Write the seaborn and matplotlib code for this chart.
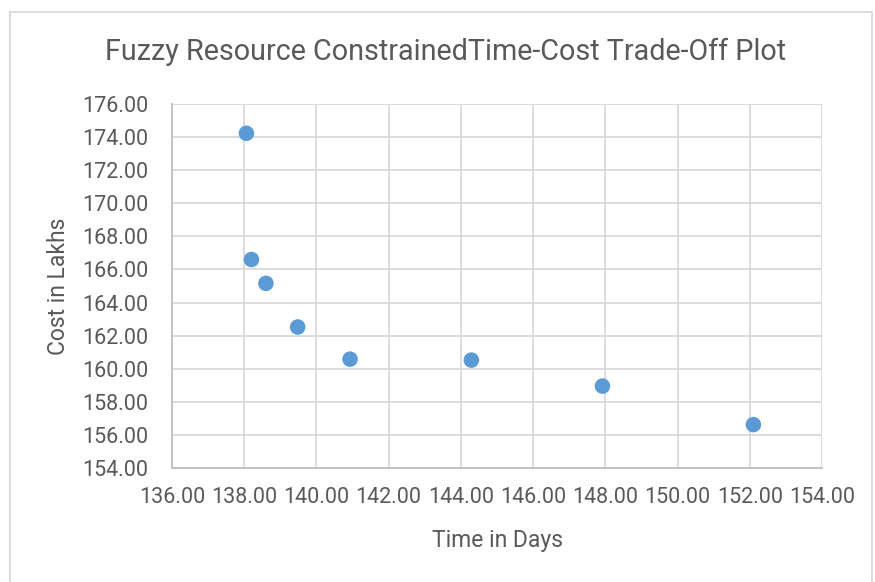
import matplotlib
matplotlib.use("Agg")
import matplotlib.pyplot as plt
import seaborn as sns
import pandas as pd
from matplotlib.patches import Rectangle

time_days = [138.06, 138.20, 138.60, 139.48, 140.93, 144.29, 147.92, 152.10]
cost_lakhs = [174.23, 166.60, 165.16, 162.52, 160.58, 160.52, 158.95, 156.62]

df = pd.DataFrame({"Time in Days": time_days, "Cost in Lakhs": cost_lakhs})

sns.set_style("white")
plt.rcParams["font.family"] = ["Roboto", "DejaVu Sans"]

text_col = "#595959"
fig = plt.figure(figsize=(8.75, 5.82), dpi=100)
ax = fig.add_axes([0.1966, 0.1959, 0.7428, 0.6254])

sns.scatterplot(data=df, x="Time in Days", y="Cost in Lakhs", ax=ax,
                color="#5b9bd5", s=125, edgecolor="none", zorder=3)

ax.set_xlim(136, 154)
ax.set_ylim(154, 176)
ax.set_xticks(range(136, 155, 2))
ax.set_yticks(range(154, 177, 2))
ax.xaxis.set_major_formatter(matplotlib.ticker.FormatStrFormatter("%.2f"))
ax.yaxis.set_major_formatter(matplotlib.ticker.FormatStrFormatter("%.2f"))
ax.grid(True, color="#d9d9d9", linewidth=1.3)
ax.tick_params(axis="both", length=0, labelsize=15.5, labelcolor=text_col)
ax.tick_params(axis="x", pad=14)
ax.tick_params(axis="y", pad=17)

for side in ["top", "right"]:
    ax.spines[side].set_visible(False)
for side in ["left", "bottom"]:
    ax.spines[side].set_color("#bfbfbf")
    ax.spines[side].set_linewidth(1.3)

ax.set_xlabel("Time in Days", fontsize=16.5, color=text_col, labelpad=15)
ax.set_ylabel("Cost in Lakhs", fontsize=16.5, color=text_col, labelpad=9)
fig.text(0.509, 0.91, "Fuzzy Resource ConstrainedTime-Cost Trade-Off Plot",
         ha="center", va="center", fontsize=20.7, color=text_col)

fig.patches.append(Rectangle((10 / 875, -0.01), 862 / 875, 1 - 12 / 582 + 0.01,
                             transform=fig.transFigure, fill=False,
                             edgecolor="#d9d9d9", linewidth=1.3))

fig.savefig("out.png", dpi=100)
